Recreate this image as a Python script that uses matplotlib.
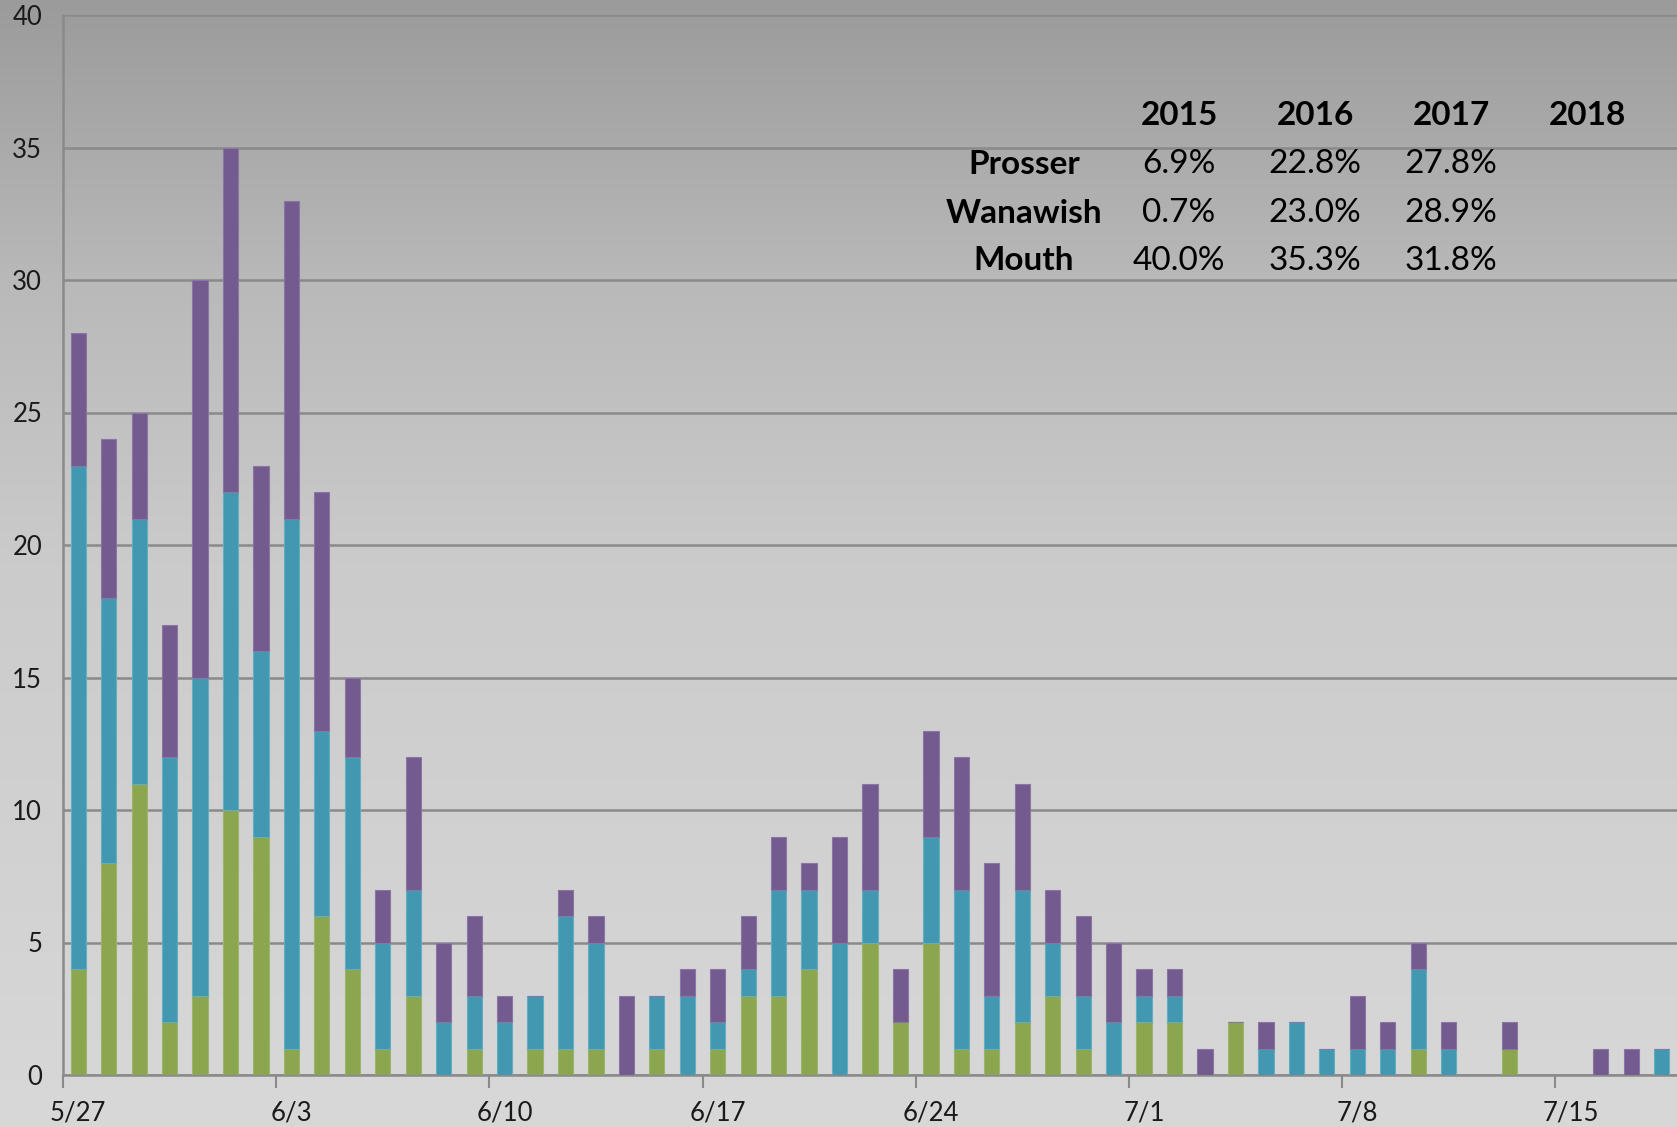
import numpy as np
import matplotlib
matplotlib.use("Agg")
import matplotlib.pyplot as plt

plt.rcParams['font.family'] = ['Lato', 'DejaVu Sans']

# daily counts, 5/27 .. 7/18
days = ['5/27', '5/28', '5/29', '5/30', '5/31', '6/1', '6/2', '6/3', '6/4', '6/5',
        '6/6', '6/7', '6/8', '6/9', '6/10', '6/11', '6/12', '6/13', '6/14', '6/15',
        '6/16', '6/17', '6/18', '6/19', '6/20', '6/21', '6/22', '6/23', '6/24', '6/25',
        '6/26', '6/27', '6/28', '6/29', '6/30', '7/1', '7/2', '7/3', '7/4', '7/5',
        '7/6', '7/7', '7/8', '7/9', '7/10', '7/11', '7/12', '7/13', '7/14', '7/15',
        '7/16', '7/17', '7/18']
green = [4, 8, 11, 2, 3, 10, 9, 1, 6, 4, 1, 3, 0, 1, 0, 1, 1, 1, 0, 1,
         0, 1, 3, 3, 4, 0, 5, 2, 5, 1, 1, 2, 3, 1, 0, 2, 2, 0, 2, 0,
         0, 0, 0, 0, 1, 0, 0, 1, 0, 0, 0, 0, 0]
teal = [19, 10, 10, 10, 12, 12, 7, 20, 7, 8, 4, 4, 2, 2, 2, 2, 5, 4, 0, 2,
        3, 1, 1, 4, 3, 5, 2, 0, 4, 6, 2, 5, 2, 2, 2, 1, 1, 0, 0, 1,
        2, 1, 1, 1, 3, 1, 0, 0, 0, 0, 0, 0, 1]
purple = [5, 6, 4, 5, 15, 13, 7, 12, 9, 3, 2, 5, 3, 3, 1, 0, 1, 1, 3, 0,
          1, 2, 2, 2, 1, 4, 4, 2, 4, 5, 5, 4, 2, 3, 3, 1, 1, 1, 0, 1,
          0, 0, 2, 1, 1, 1, 0, 1, 0, 0, 1, 1, 0]

years = ['2015', '2016', '2017', '2018']
sites = ['Prosser', 'Wanawish', 'Mouth']
pct = [['6.9%', '22.8%', '27.8%', ''],
       ['0.7%', '23.0%', '28.9%', ''],
       ['40.0%', '35.3%', '31.8%', '']]

c_green = '#8BA64F'
c_teal = '#4398B1'
c_purple = '#735A8F'
c_grid = '#8A8A8A'

fig = plt.figure(figsize=(16.77, 11.27), dpi=100)

# background gradient over the whole figure
bg = fig.add_axes([0, 0, 1, 1])
yy = np.linspace(0, 1, 400)
shade = np.interp(yy, [0, 0.25, 0.5, 1.0], [155, 185, 203, 216]) / 255.0
grad = np.repeat(shade[:, None], 2, axis=1)
bg.imshow(np.dstack([grad, grad, grad]), aspect='auto', extent=[0, 1, 1, 0])
bg.axis('off')

ax = fig.add_axes([63 / 1677, 1 - 1075 / 1127, 1 - 63 / 1677, (1075 - 15) / 1127])
ax.patch.set_alpha(0)

x = np.arange(len(days))
g = np.array(green)
t = np.array(teal)
p = np.array(purple)
w = 0.5
ax.bar(x, g, w, color=c_green, edgecolor='#9DB56A', linewidth=0.8, zorder=3)
ax.bar(x, t, w, bottom=g, color=c_teal, edgecolor='#62AEC3', linewidth=0.8, zorder=3)
ax.bar(x, p, w, bottom=g + t, color=c_purple, edgecolor='#8B76A3', linewidth=0.8, zorder=3)

ax.set_xlim(-0.5, len(days) - 0.5)
ax.set_ylim(0, 40)
ax.set_yticks(range(0, 41, 5))
ax.yaxis.grid(True, color=c_grid, linewidth=1.8, zorder=1)
ax.set_axisbelow(True)

ax.set_xticks(x[::7])
ax.set_xticklabels(days[::7])
ax.set_xticks(np.arange(-0.5, len(days), 7), minor=True)
ax.tick_params(axis='x', which='major', length=0, pad=18, labelsize=18.5, labelcolor='#1a1a1a')
ax.tick_params(axis='x', which='minor', length=9, width=1.5, color=c_grid, direction='out')
ax.tick_params(axis='y', length=0, pad=15, labelsize=18.5, labelcolor='#1a1a1a')

for s in ['top', 'right']:
    ax.spines[s].set_visible(False)
for s in ['left', 'bottom']:
    ax.spines[s].set_color(c_grid)
    ax.spines[s].set_linewidth(1.8)

# percentage table, figure pixel coords
col_x = [1179, 1315, 1451, 1587]
row_y = [164, 213, 261]
tx = lambda px: px / 1677
ty = lambda py: 1 - py / 1127
for yr, cx in zip(years, col_x):
    fig.text(tx(cx), ty(116), yr, ha='center', va='center', fontsize=24,
             fontweight='bold', color='black')
for i, (site, ry) in enumerate(zip(sites, row_y)):
    fig.text(tx(1024), ty(ry), site, ha='center', va='center', fontsize=24,
             fontweight='bold', color='black')
    for j, cx in enumerate(col_x):
        if pct[i][j]:
            fig.text(tx(cx), ty(ry), pct[i][j], ha='center', va='center',
                     fontsize=24, color='black')

fig.savefig('out.png', dpi=100)
